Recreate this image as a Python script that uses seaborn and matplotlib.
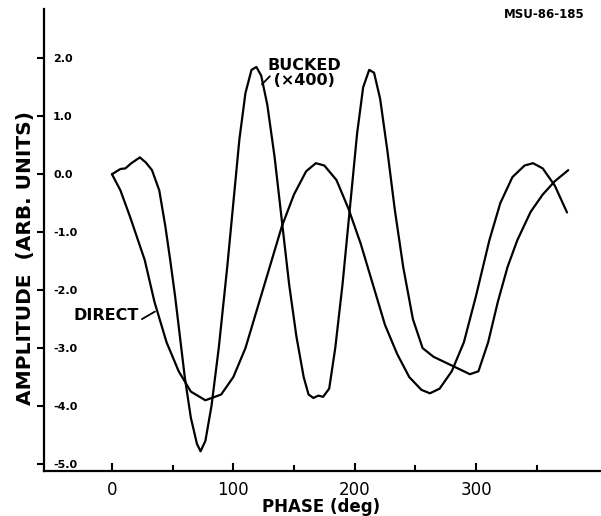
import matplotlib
matplotlib.use("Agg")
import matplotlib.pyplot as plt
import seaborn as sns
import pandas as pd
from matplotlib.ticker import FixedLocator

# ---- data ----
direct_phase = [0, 7, 15, 27, 35, 45, 55, 65, 77, 90, 100, 110, 120, 130, 140, 150, 160, 168,
                175, 185, 195, 205, 215, 225, 235, 245, 255, 262, 270, 280, 290, 300, 311, 320,
                330, 340, 347, 355, 365, 375]
direct_amp = [0.0, -0.28, -0.74, -1.48, -2.2, -2.9, -3.4, -3.75, -3.9, -3.8, -3.5, -3.0, -2.3,
              -1.6, -0.9, -0.35, 0.05, 0.19, 0.15, -0.1, -0.6, -1.2, -1.9, -2.6, -3.1, -3.5,
              -3.72, -3.78, -3.7, -3.4, -2.9, -2.1, -1.14, -0.5, -0.05, 0.15, 0.19, 0.1, -0.2, -0.66]

bucked_phase = [0, 7, 11, 16, 23, 28, 33, 39, 44, 48, 52, 56, 60, 65, 70, 73, 77, 82, 88, 95,
                100, 105, 110, 115, 119, 123, 128, 134, 140, 146, 152, 158, 162, 166, 170, 174,
                179, 184, 190, 196, 202, 207, 212, 216, 221, 227, 233, 240, 248, 256, 265, 275,
                285, 295, 302, 310, 318, 326, 334, 345, 355, 365, 376]
bucked_amp = [0.0, 0.09, 0.1, 0.19, 0.29, 0.2, 0.07, -0.28, -0.9, -1.48, -2.1, -2.8, -3.5, -4.2,
              -4.65, -4.78, -4.6, -4.0, -3.0, -1.6, -0.5, 0.6, 1.4, 1.8, 1.85, 1.7, 1.2, 0.3,
              -0.8, -1.9, -2.8, -3.5, -3.8, -3.86, -3.82, -3.84, -3.7, -3.0, -1.9, -0.6, 0.7,
              1.5, 1.8, 1.75, 1.3, 0.4, -0.6, -1.6, -2.5, -3.0, -3.15, -3.25, -3.35, -3.45,
              -3.4, -2.9, -2.2, -1.6, -1.14, -0.65, -0.35, -0.12, 0.07]

y_ticks = [2.0, 1.0, 0.0, -1.0, -2.0, -3.0, -4.0, -5.0]
x_major = [0, 100, 200, 300]
x_minor = [50, 150, 250, 350]

df = pd.concat([
    pd.DataFrame({"phase": direct_phase, "amp": direct_amp, "curve": "DIRECT"}),
    pd.DataFrame({"phase": bucked_phase, "amp": bucked_amp, "curve": "BUCKED"}),
])

sns.set_style("ticks")
plt.rcParams["font.family"] = ["DejaVu Sans"]
plt.rcParams["text.color"] = "black"
plt.rcParams["axes.labelcolor"] = "black"

fig = plt.figure(figsize=(6.01, 5.16), dpi=100)
ax = fig.add_axes([44 / 601, 45 / 516, 557 / 601, 462 / 516])

sns.lineplot(data=df, x="phase", y="amp", units="curve", estimator=None, sort=False,
             color="black", linewidth=1.6, ax=ax, legend=False)

ax.set_xlim(-56, 403)
ax.set_ylim(-5.12, 2.85)

for s in ["top", "right"]:
    ax.spines[s].set_visible(False)
for s in ["left", "bottom"]:
    ax.spines[s].set_linewidth(1.6)
    ax.spines[s].set_color("black")

ax.xaxis.set_major_locator(FixedLocator(x_major))
ax.xaxis.set_minor_locator(FixedLocator(x_minor))
ax.set_xticklabels([str(v) for v in x_major])
ax.tick_params(axis="x", which="major", direction="in", length=6, width=1.5,
               labelsize=12, pad=7, colors="black")
ax.tick_params(axis="x", which="minor", direction="in", length=4, width=1.5, colors="black")

ax.yaxis.set_major_locator(FixedLocator(y_ticks))
ax.set_yticklabels([f"{v:.1f}" for v in y_ticks])
ax.tick_params(axis="y", which="major", direction="out", length=5, width=1.5,
               labelsize=8, pad=-11.5, colors="black")
for t in ax.get_yticklabels():
    t.set_ha("left")
    t.set_fontweight("bold")

ax.set_xlabel("PHASE (deg)", fontsize=12, fontweight="bold", va="center")
ax.xaxis.set_label_coords(0.497, -0.078)
ax.set_ylabel("AMPLITUDE  (ARB. UNITS)", fontsize=14.5, fontweight="bold", va="center")
ax.yaxis.set_label_coords(-0.034, 0.461)

# annotations
ax.text(128.5, 2.0, "BUCKED\n (×400)", fontsize=11.5, fontweight="bold", ha="left",
        va="top", linespacing=1.0)
ax.annotate("", xy=(130.1, 1.69), xytext=(123.6, 1.55),
            arrowprops=dict(arrowstyle="-", lw=1.3, color="black", shrinkA=0, shrinkB=0))
ax.text(-32.1, -2.52, "DIRECT", fontsize=11.5, fontweight="bold", ha="left", va="baseline")
ax.annotate("", xy=(35.4, -2.37), xytext=(24.7, -2.50),
            arrowprops=dict(arrowstyle="-", lw=1.3, color="black", shrinkA=0, shrinkB=0))

fig.text(585 / 601, 1 - 15 / 516, "MSU-86-185", fontsize=8.5, fontweight="bold",
         ha="right", va="center")

fig.savefig("out.png", dpi=100)
